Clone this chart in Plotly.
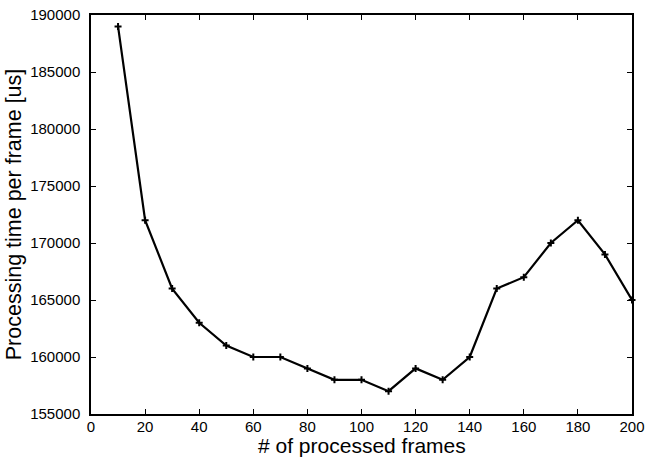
import plotly.graph_objects as go

frames = [10, 20, 30, 40, 50, 60, 70, 80, 90, 100, 110, 120, 130, 140, 150, 160, 170, 180, 190, 200]
times = [189000, 172000, 166000, 163000, 161000, 160000, 160000, 159000, 158000, 158000,
         157000, 159000, 158000, 160000, 166000, 167000, 170000, 172000, 169000, 165000]
x_ticks = [0, 20, 40, 60, 80, 100, 120, 140, 160, 180, 200]
y_ticks = [155000, 160000, 165000, 170000, 175000, 180000, 185000, 190000]

FONT = "Liberation Sans, Arial, sans-serif"

fig = go.Figure()
fig.add_trace(go.Scatter(
    x=frames, y=times, mode="lines+markers",
    line=dict(color="black", width=2.2),
    marker=dict(symbol="cross-thin", size=5, line=dict(color="black", width=2)),
    showlegend=False, cliponaxis=False,
))

axis_common = dict(
    showline=True, linecolor="black", linewidth=1.5, mirror="ticks",
    ticks="inside", ticklen=5, tickcolor="black", tickwidth=1,
    showgrid=False, zeroline=False, automargin=False,
    tickfont=dict(family=FONT, size=15, color="black"),
)

fig.update_layout(
    width=648, height=458,
    margin=dict(l=91, r=16, t=15, b=44),
    plot_bgcolor="white", paper_bgcolor="white",
    xaxis=dict(range=[0, 200], tickvals=x_ticks, ticklabelstandoff=-2, **axis_common),
    yaxis=dict(range=[155000, 190000], tickvals=y_ticks, tickformat="d", ticklabelstandoff=6,
               title=dict(text="Processing time per frame [us]", standoff=3,
                          font=dict(family=FONT, size=21.5, color="black")),
               **axis_common),
    annotations=[dict(
        text="# of processed frames", xref="paper", yref="paper",
        x=0.5, y=-44 / 399, xanchor="center", yanchor="bottom",
        showarrow=False, borderpad=0,
        font=dict(family=FONT, size=21, color="black"),
    )],
)

fig.write_html("out.html", config={"displayModeBar": False},
               post_script="document.body.style.margin='0px';document.body.style.overflow='hidden';")
